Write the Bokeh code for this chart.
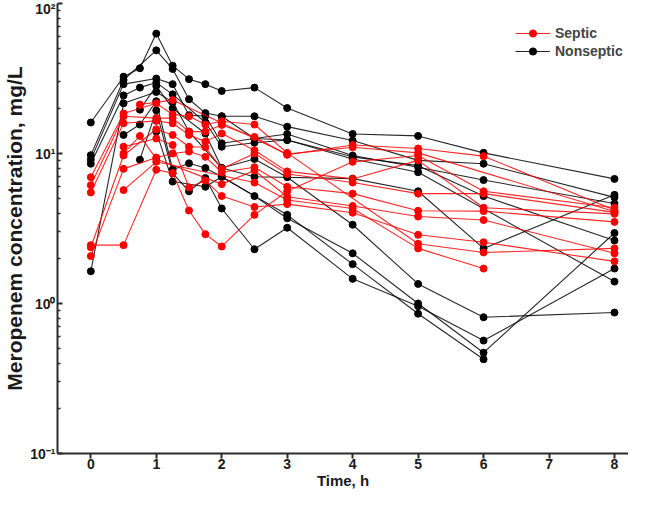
from bokeh.plotting import figure
from bokeh.embed import file_html
from bokeh.resources import INLINE
from bokeh.models import FixedTicker, Range1d

# ---- data ----
y_ticks = [0.1, 1, 10, 100]
y_tick_labels = ["10⁻¹", "10⁰", "10¹", "10²"]
x_ticks = [0, 1, 2, 3, 4, 5, 6, 7, 8]

# Nonseptic patients
n1_t = [0, 0.5, 0.75, 1, 1.25, 1.5, 1.75, 2, 2.5, 3, 4, 5, 6, 8]
n1_v = [16.1, 32.5, 37, 63, 38.5, 31.3, 29, 26.1, 27.5, 20.1, 13.5, 13.1, 10.1, 6.77]
n2_t = [0, 0.5, 1, 1.25, 1.5, 1.75, 2, 2.5, 3, 4, 5, 6, 8]
n2_v = [9.75, 30.9, 48.7, 36.6, 23, 18.6, 17.7, 17.7, 15.1, 12.2, 9.0, 8.55, 5.1]
n3_t = [0, 0.5, 1, 1.25, 1.5, 1.75, 2, 2.5, 3, 4, 5, 6, 8]
n3_v = [9.1, 29.0, 31.6, 29.0, 18.0, 17.8, 11.7, 12.6, 13.5, 9.7, 8.1, 6.65, 4.64]
n4_t = [0, 0.5, 0.75, 1, 1.25, 1.75, 2, 2.5, 3, 4, 5, 8]
n4_v = [8.55, 24.4, 27.5, 29.7, 24.8, 16.1, 11.1, 11.8, 12.3, 9.2, 7.5, 1.40]
n5_t = [0.75, 1, 1.25, 1.75, 2, 2.5, 3, 4, 5, 6, 8]
n5_v = [19.6, 28.2, 20.0, 13.6, 8.0, 9.2, 6.95, 3.35, 1.35, 0.81, 0.87]
n6_t = [0, 0.5, 1, 1.25, 1.5, 2, 2.5, 4, 5, 6, 8]
n6_v = [1.64, 21.6, 25.7, 22.0, 14.0, 8.0, 7.0, 6.8, 5.6, 2.33, 5.3]
n7_t = [0.5, 0.75, 1, 1.25, 1.5, 1.75, 2, 2.5, 3, 4, 5, 6, 8]
n7_v = [13.3, 15.6, 22.3, 7.8, 8.6, 8.0, 7.0, 5.2, 3.7, 2.16, 1.0, 0.47, 2.95]
n8_t = [0.75, 1, 1.25, 1.5, 1.75, 2, 2.5, 3, 4, 5, 6, 8]
n8_v = [9.1, 19.4, 7.4, 5.6, 6.87, 4.3, 2.3, 3.2, 1.46, 0.96, 0.566, 1.71]
n9_t = [1, 1.25, 1.75, 2, 3, 4, 5, 6]
n9_v = [14.0, 6.5, 6.0, 7.0, 3.9, 1.83, 0.855, 0.425]
n10_t = [2, 2.5, 3, 4, 5, 6, 8]
n10_v = [17.7, 12.6, 12.3, 9.5, 8.3, 5.2, 2.63]

# Septic patients
s1_t = [0, 0.5, 1, 1.25, 1.5, 1.75, 2, 2.5, 3, 5, 6, 8]
s1_v = [6.95, 18.5, 21.6, 18.2, 17.7, 15.6, 16.4, 15.6, 10.1, 2.5, 2.19, 2.33]
s2_t = [0, 0.5, 1, 1.25, 1.5, 1.75, 2, 2.5, 3, 4, 5, 6, 8]
s2_v = [6.15, 17.7, 17.2, 17.2, 14.0, 14.0, 15.5, 12.9, 9.8, 11.4, 10.8, 9.6, 4.2]
s3_t = [0, 0.5, 1, 1.25, 1.5, 1.75, 2, 2.5, 3, 4, 5, 6, 8]
s3_v = [5.5, 15.9, 16.5, 15.9, 13.3, 12.0, 13.6, 10.5, 7.6, 6.77, 9.0, 4.35, 3.96]
s4_t = [0, 0.5, 1, 1.25, 1.5, 1.75, 2, 2.5, 3, 4, 5, 6, 8]
s4_v = [2.45, 2.45, 7.8, 7.4, 4.17, 2.9, 2.4, 3.9, 5.6, 8.8, 9.7, 5.6, 4.35]
s5_t = [0, 0.5, 1, 1.25, 1.5, 1.75, 2, 2.5, 3, 4, 5, 6, 8]
s5_v = [2.37, 9.7, 14.5, 13.3, 11.1, 11.0, 7.9, 10.0, 7.3, 6.4, 5.4, 5.4, 4.05]
s6_t = [0, 0.5, 1, 1.25, 1.5, 1.75, 2, 2.5, 3, 4, 5, 6, 8]
s6_v = [2.07, 7.9, 9.4, 10.0, 10.3, 9.5, 7.5, 8.1, 6.0, 5.4, 4.15, 4.13, 3.5]
s7_t = [0.5, 1, 1.25, 1.5, 1.75, 2, 2.5, 3, 4, 5, 6, 8]
s7_v = [11.1, 12.6, 11.4, 5.94, 6.6, 5.2, 4.4, 4.6, 4.03, 2.87, 2.56, 1.91]
s8_t = [0.5, 0.75, 1, 2, 2.5, 3, 4, 5, 6, 8]
s8_v = [10.0, 13.1, 9.2, 6.25, 7.7, 5.15, 4.47, 3.8, 3.6, 2.16]
s9_t = [0.5, 1, 2.5, 3, 4, 5, 6]
s9_v = [5.7, 8.8, 6.4, 4.9, 4.3, 2.33, 1.71]
s10_t = [0.75, 1.25, 2, 3, 4, 5, 8]
s10_v = [21.2, 22.7, 16.0, 9.9, 11.0, 10.1, 4.1]

nonseptic = [(n1_t, n1_v), (n2_t, n2_v), (n3_t, n3_v), (n4_t, n4_v), (n5_t, n5_v),
             (n6_t, n6_v), (n7_t, n7_v), (n8_t, n8_v), (n9_t, n9_v), (n10_t, n10_v)]
septic = [(s1_t, s1_v), (s2_t, s2_v), (s3_t, s3_v), (s4_t, s4_v), (s5_t, s5_v),
          (s6_t, s6_v), (s7_t, s7_v), (s8_t, s8_v), (s9_t, s9_v), (s10_t, s10_v)]

FONT = "Liberation Sans"

p = figure(width=628, height=491, y_axis_type="log",
           x_range=Range1d(-0.509, 8.214), y_range=Range1d(0.1, 100),
           output_backend="svg", toolbar_location=None,
           min_border_left=54, min_border_right=0, min_border_top=3, min_border_bottom=38)
p.outline_line_color = None
p.xgrid.visible = False
p.ygrid.visible = False

for i, (t, v) in enumerate(nonseptic):
    kw = dict(legend_label="Nonseptic") if i == 0 else {}
    p.line(t, v, line_color="black", line_width=1.1, line_alpha=0.85, **kw)
    p.scatter(t, v, marker="circle", size=7, fill_color="black", line_color="black", **kw)

for i, (t, v) in enumerate(septic):
    kw = dict(legend_label="Septic") if i == 0 else {}
    p.line(t, v, line_color="#ff0000", line_width=1.1, line_alpha=0.85, **kw)
    p.scatter(t, v, marker="circle", size=7, fill_color="#ff0000", line_color="#ff0000", **kw)

# axes
minor = [m * 10.0 ** e for e in (-1, 0, 1) for m in range(2, 10)]
p.yaxis.ticker = FixedTicker(ticks=y_ticks, minor_ticks=minor)
p.yaxis.major_label_overrides = {t: l for t, l in zip(y_ticks, y_tick_labels)}
p.xaxis.ticker = FixedTicker(ticks=x_ticks)

for ax in (p.xaxis[0], p.yaxis[0]):
    ax.axis_line_width = 2
    ax.axis_line_color = "#2a2a2a"
    ax.major_tick_line_color = "#2a2a2a"
    ax.major_tick_line_width = 2
    ax.minor_tick_line_color = "#2a2a2a"
    ax.minor_tick_line_width = 1.5
    ax.major_label_text_font = FONT
    ax.major_label_text_font_style = "bold"
    ax.major_label_text_color = "#1a1a1a"
    ax.axis_label_text_font = FONT
    ax.axis_label_text_font_style = "bold"
    ax.axis_label_text_color = "#1a1a1a"

p.xaxis.axis_label = "Time, h"
p.xaxis.major_tick_out = 5
p.xaxis.major_tick_in = 0
p.xaxis.minor_tick_out = 0
p.xaxis.minor_tick_in = 0
p.xaxis.major_label_text_font_size = "14px"
p.xaxis.major_label_standoff = 0
p.xaxis.axis_label_text_font_size = "15px"
p.xaxis.axis_label_standoff = 0

p.yaxis.axis_label = "Meropenem concentration, mg/L"
p.yaxis.major_tick_out = 0
p.yaxis.major_tick_in = 5
p.yaxis.minor_tick_out = 0
p.yaxis.minor_tick_in = 3
p.yaxis.major_label_text_font_size = "14px"
p.yaxis.major_label_standoff = 2
p.yaxis.axis_label_text_font_size = "21px"
p.yaxis.axis_label_standoff = 1

leg = p.legend[0]
leg.location = (458, 393)
leg.items = [leg.items[1], leg.items[0]]
leg.border_line_color = None
leg.background_fill_alpha = 0
leg.margin = 0
leg.padding = 0
leg.spacing = 0
leg.glyph_width = 35
leg.glyph_height = 18
leg.label_height = 18
leg.label_standoff = 5
leg.label_text_font = FONT
leg.label_text_font_style = "bold"
leg.label_text_font_size = "14px"

open("out.html", "w").write(file_html(p, INLINE))
